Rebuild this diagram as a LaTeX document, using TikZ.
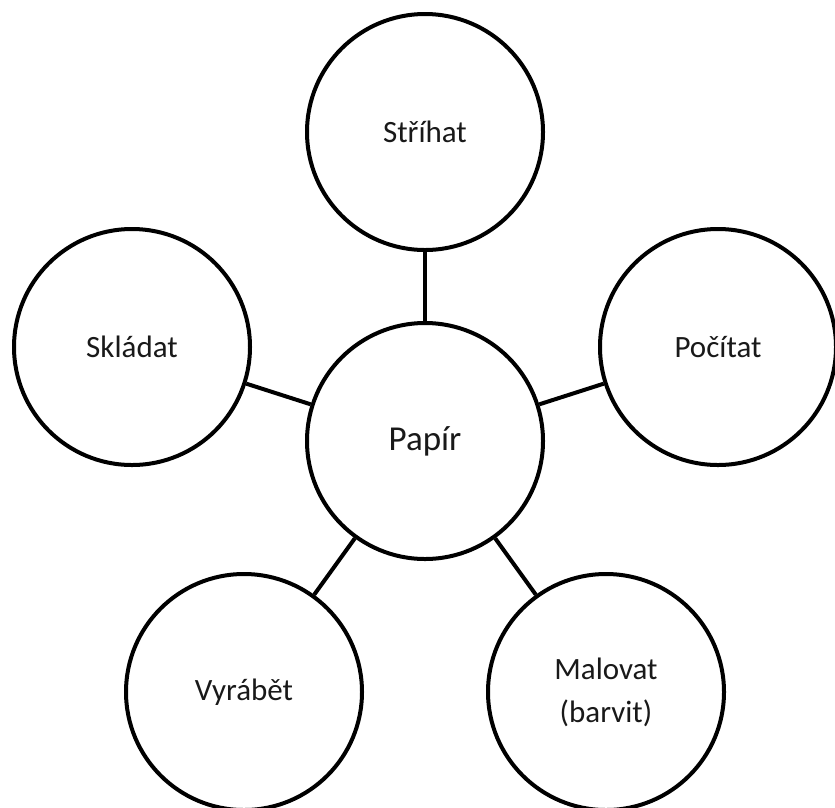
\documentclass[tikz,border=0pt]{standalone}
\usepackage{fontspec}
\setmainfont{Carlito}
\begin{document}
\begin{tikzpicture}[x=1pt,y=-1pt,
  bubble/.style={circle,draw=black,line width=4pt,fill=white,
    minimum size=236pt,inner sep=0pt,align=center,
    font=\fontsize{31}{43}\selectfont,text=black!90},
  hub/.style={bubble,font=\fontsize{35}{42}\selectfont},
  link/.style={line width=4pt,draw=black}]
  \useasboundingbox (0,0) rectangle (835,807);
  \fill[white] (0,0) rectangle (835,807);
  % centre and the five surrounding bubbles
  \node[hub]    (papir)   at (425,441) {Papír};
  \node[bubble] (strihat) at (425,132) {Stříhat};
  \node[bubble] (skladat) at (132,347) {Skládat};
  \node[bubble] (pocitat) at (718,347) {Počítat};
  \node[bubble] (vyrabet) at (244,692) {Vyrábět};
  \node[bubble] (malovat) at (606,692) {Malovat\\(barvit)};
  % spokes
  \draw[link] (papir) -- (strihat);
  \draw[link] (papir) -- (skladat);
  \draw[link] (papir) -- (pocitat);
  \draw[link] (papir) -- (vyrabet);
  \draw[link] (papir) -- (malovat);
\end{tikzpicture}
\end{document}
